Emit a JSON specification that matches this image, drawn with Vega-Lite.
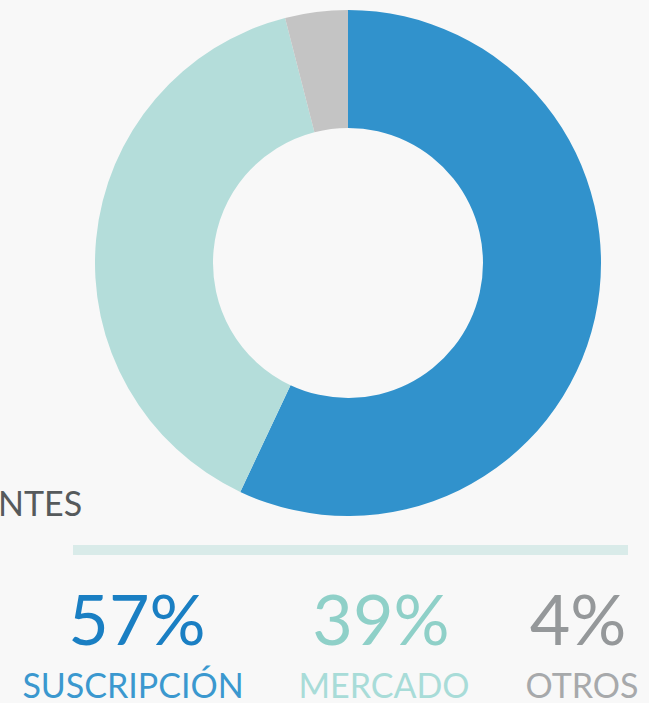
{
  "$schema": "https://vega.github.io/schema/vega-lite/v6.json",
  "width": 649,
  "height": 703,
  "padding": 0,
  "autosize": {"type": "none"},
  "background": "#f8f8f8",
  "config": {"view": {"stroke": null}, "font": "Lato"},
  "data": {
    "values": [
      {"category": "SUSCRIPCIÓN", "value": 0.57},
      {"category": "MERCADO", "value": 0.39},
      {"category": "OTROS", "value": 0.04}
    ]
  },
  "layer": [
    {
      "mark": {"type": "arc", "outerRadius": 253, "innerRadius": 135},
      "encoding": {
        "theta": {"field": "value", "type": "quantitative", "stack": true},
        "order": {"field": "value", "sort": "descending"},
        "color": {
          "field": "category",
          "type": "nominal",
          "scale": {"domain": ["SUSCRIPCIÓN", "MERCADO", "OTROS"], "range": ["#3192cc", "#b4ddda", "#c4c4c4"]},
          "legend": null
        },
        "x": {"value": 348},
        "y": {"value": 263}
      }
    },
    {
      "data": {"values": [{"label": "NTES"}]},
      "mark": {"type": "text", "align": "left", "baseline": "alphabetic", "fontSize": 34, "color": "#565a5c"},
      "encoding": {"text": {"field": "label"}, "x": {"value": -2}, "y": {"value": 516}}
    },
    {
      "data": {"values": [{}]},
      "mark": {"type": "rule", "strokeWidth": 10, "color": "#d9ebe9"},
      "encoding": {"x": {"value": 73}, "x2": {"value": 628}, "y": {"value": 550}}
    },
    {
      "transform": [{"filter": "datum.category === 'SUSCRIPCIÓN'"}],
      "layer": [
        {
          "mark": {"type": "text", "align": "center", "baseline": "alphabetic", "fontSize": 70, "color": "#1a7fc3"},
          "encoding": {"text": {"field": "value", "format": ".0%"}, "x": {"value": 137}, "y": {"value": 645}}
        },
        {
          "mark": {"type": "text", "align": "center", "baseline": "alphabetic", "fontSize": 34, "color": "#3b98cf"},
          "encoding": {"text": {"field": "category"}, "x": {"value": 133}, "y": {"value": 698}}
        }
      ]
    },
    {
      "transform": [{"filter": "datum.category === 'MERCADO'"}],
      "layer": [
        {
          "mark": {"type": "text", "align": "center", "baseline": "alphabetic", "fontSize": 70, "color": "#8fd0c8"},
          "encoding": {"text": {"field": "value", "format": ".0%"}, "x": {"value": 381}, "y": {"value": 645}}
        },
        {
          "mark": {"type": "text", "align": "center", "baseline": "alphabetic", "fontSize": 34, "color": "#a8dcd8"},
          "encoding": {"text": {"field": "category"}, "x": {"value": 384}, "y": {"value": 698}}
        }
      ]
    },
    {
      "transform": [{"filter": "datum.category === 'OTROS'"}],
      "layer": [
        {
          "mark": {"type": "text", "align": "center", "baseline": "alphabetic", "fontSize": 70, "color": "#95989a"},
          "encoding": {"text": {"field": "value", "format": ".0%"}, "x": {"value": 578}, "y": {"value": 645}}
        },
        {
          "mark": {"type": "text", "align": "center", "baseline": "alphabetic", "fontSize": 34, "color": "#a7a9ab"},
          "encoding": {"text": {"field": "category"}, "x": {"value": 582}, "y": {"value": 698}}
        }
      ]
    }
  ]
}
